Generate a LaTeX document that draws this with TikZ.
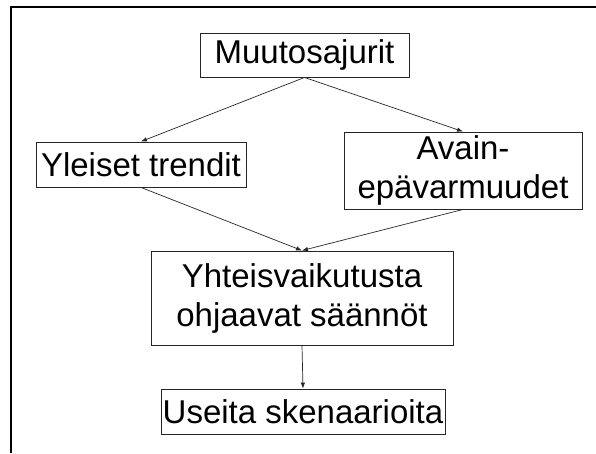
\documentclass[tikz,border=0pt]{standalone}
\usepackage{fontspec}
\setmainfont{Liberation Sans}
\usetikzlibrary{arrows.meta}
\begin{document}
\begin{tikzpicture}[x=1pt,y=1pt,
  box/.style={draw=black!85, line width=0.9pt, inner sep=0pt, align=center,
    font=\fontsize{33}{39}\selectfont},
  link/.style={draw=black!85, line width=0.7pt, -{Latex[length=6pt,width=4.5pt]}}]
  \useasboundingbox (0,0) rectangle (596,453);
  % page frame: left and top edges only
  \draw[line width=2.2pt] (11,0) -- (11,446) -- (596,446);
  % boxes (y measured from the bottom)
  \node[box, minimum width=209pt, minimum height=44pt] (drivers) at (304.5,398) {Muutosajurit};
  \node[box, minimum width=210pt, minimum height=45pt] (trends) at (141,288.5) {Yleiset trendit};
  \node[box, minimum width=238pt, minimum height=77pt] (uncert) at (463,282.5) {Avain-\\epävarmuudet};
  \node[box, minimum width=302pt, minimum height=94pt] (rules) at (302,155) {Yhteisvaikutusta\\ohjaavat säännöt};
  \node[box, minimum width=284pt, minimum height=45pt] (scen) at (303,41.5) {Useita skenaarioita};
  % connectors
  \draw[link] (drivers.south) -- (trends.north);
  \draw[link] (drivers.south) -- (uncert.north);
  \draw[link] (trends.south) -- (rules.north);
  \draw[link] (uncert.south) -- (rules.north);
  \draw[link] (rules.south) -- (scen.north);
\end{tikzpicture}
\end{document}
